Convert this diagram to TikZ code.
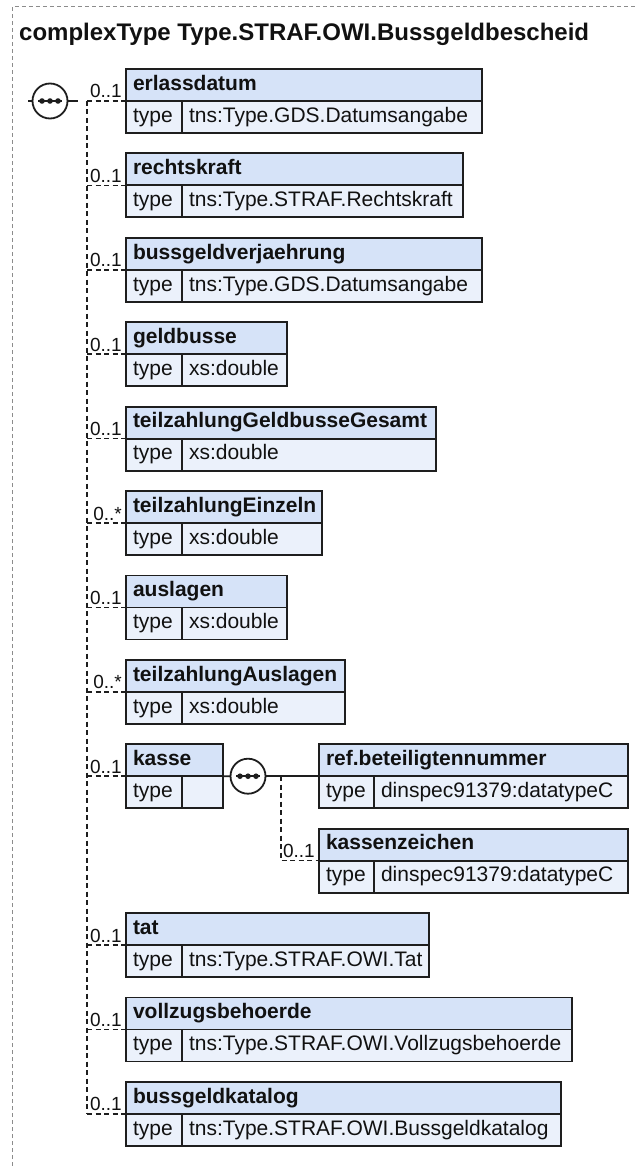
\documentclass[tikz,border=0pt]{standalone}
\usepackage{fontspec}
\setmainfont{Liberation Sans}
\usepackage{tikz}
\usetikzlibrary{calc}
\usetikzlibrary{positioning}
\definecolor{xs-head}{HTML}{D6E3F8}
\definecolor{xs-cell}{HTML}{EBF1FB}
\definecolor{xs-line}{HTML}{1E1E1E}
\definecolor{xs-frame}{HTML}{8C8C8C}
\definecolor{xs-text}{HTML}{111111}
\tikzset{
    elhead/.style={rectangle, draw=xs-line, line width=1.8pt, fill=xs-head, anchor=north west,
        outer sep=0pt, inner xsep=7pt, minimum height=32pt, text height=15pt, text depth=4.5pt,
        align=left, text=xs-text, font=\fontsize{21}{25}\selectfont\bfseries},
    elcell/.style={rectangle, draw=xs-line, line width=1.8pt, fill=xs-cell, anchor=north west,
        outer sep=0pt, inner xsep=7pt, minimum height=32pt, text height=15pt, text depth=4.5pt,
        align=left, text=xs-text, font=\fontsize{21}{25}\selectfont},
    multlbl/.style={anchor=base east, inner sep=0pt, text=xs-text, font=\fontsize{19}{21}\selectfont},
    seqcirc/.style={circle, draw=xs-line, line width=1.8pt, fill=white, minimum size=35pt, inner sep=0pt, outer sep=0pt},
    conn/.style={draw=xs-line, line width=1.6pt, dash pattern=on 5pt off 3.5pt},
    solidconn/.style={draw=xs-line, line width=1.6pt}
}

\begin{document}
\begin{tikzpicture}[x=1pt, y=-1pt]
    \useasboundingbox (0,0) rectangle (635,1166);

    % Frame and title
    \draw[xs-frame, line width=1pt, dash pattern=on 4pt off 3pt] (12,1166) -- (12,7) -- (635,7);
    \node[anchor=base west, inner sep=0pt, text=xs-text, font=\fontsize{24}{28}\selectfont\bfseries] (ttl) at (19,41)
        {complexType Type.STRAF.OWI.Bussgeldbescheid};

    % Sequence compositor
    \node[seqcirc] (seq) at (50,101) {};
    \draw[xs-line, line width=1.6pt] ([xshift=-12pt]seq.center) -- ([xshift=12pt]seq.center);
    \foreach \d in {-8,0,8} {
        \fill[xs-line] ([xshift=\d pt]seq.center) circle (2.8pt);
    }
    \coordinate (inlet) at (28,101);
    \coordinate (outlet) at (78,101);
    \draw[solidconn] (inlet) -- (seq.west);
    \draw[solidconn] (seq.east) -- (outlet);

    % Spine
    \coordinate (sp0) at (87,101);
    \coordinate (sp12) at (87,1114);
    \draw[conn] (sp0) -- (sp12);

    % Elements
    \foreach \k/\nm/\r/\typ/\mult in {
        0/erlassdatum/482/tns:Type.GDS.Datumsangabe/0..1,
        1/rechtskraft/463/tns:Type.STRAF.Rechtskraft/0..1,
        2/bussgeldverjaehrung/482/tns:Type.GDS.Datumsangabe/0..1,
        3/geldbusse/287/xs:double/0..1,
        4/teilzahlungGeldbusseGesamt/436/xs:double/0..1,
        5/teilzahlungEinzeln/322/xs:double/0..*,
        6/auslagen/287/xs:double/0..1,
        7/teilzahlungAuslagen/345/xs:double/0..*,
        8/kasse/223/{}/0..1,
        10/tat/429/tns:Type.STRAF.OWI.Tat/0..1,
        11/vollzugsbehoerde/572/tns:Type.STRAF.OWI.Vollzugsbehoerde/0..1,
        12/bussgeldkatalog/561/tns:Type.STRAF.OWI.Bussgeldkatalog/0..1} {
        \pgfmathsetmacro{\ytop}{69+84.4*\k}
        \pgfmathsetmacro{\tw}{\r-140}
        \pgfmathsetmacro{\vw}{\r-182}
        \node[elhead, minimum width=\r-126, text width=\tw pt] (h\k) at (126,\ytop) {\nm};
        \node[elcell, minimum width=56pt, text width=42pt] (t\k) at (h\k.south west) {type};
        \node[elcell, minimum width=\vw pt, text width=\vw pt-14pt] (v\k) at (t\k.north east) {\typ};
        \coordinate (c\k) at (87,\ytop+32);
        \draw[conn] (c\k) -- (h\k.south west);
        \node[multlbl] (m\k) at ([xshift=-4pt,yshift=3pt]h\k.south west) {\mult};
    }

    % Kasse content
    \node[seqcirc] (seqk) at (248,776.2) {};
    \draw[xs-line, line width=1.6pt] ([xshift=-12pt]seqk.center) -- ([xshift=12pt]seqk.center);
    \foreach \d in {-8,0,8} {
        \fill[xs-line] ([xshift=\d pt]seqk.center) circle (2.8pt);
    }
    \node[elhead, minimum width=309pt, text width=295pt] (href) at (319,744.2) {ref.beteiligtennummer};
    \node[elcell, minimum width=55pt, text width=41pt] (tref) at (href.south west) {type};
    \node[elcell, minimum width=254pt, text width=240pt] (vref) at (tref.north east) {dinspec91379:datatypeC};
    \node[elhead, minimum width=309pt, text width=295pt] (hkz) at (319,828.6) {kassenzeichen};
    \node[elcell, minimum width=55pt, text width=41pt] (tkz) at (hkz.south west) {type};
    \node[elcell, minimum width=254pt, text width=240pt] (vkz) at (tkz.north east) {dinspec91379:datatypeC};
    \draw[solidconn] (h8.south east) -- (seqk.west);
    \draw[solidconn] (seqk.east) -- (href.south west);
    \coordinate (spk) at (281,776.2);
    \draw[conn] (spk) |- (hkz.south west);
    \node[multlbl] (mkz) at ([xshift=-4pt,yshift=3pt]hkz.south west) {0..1};
\end{tikzpicture}
\end{document}
